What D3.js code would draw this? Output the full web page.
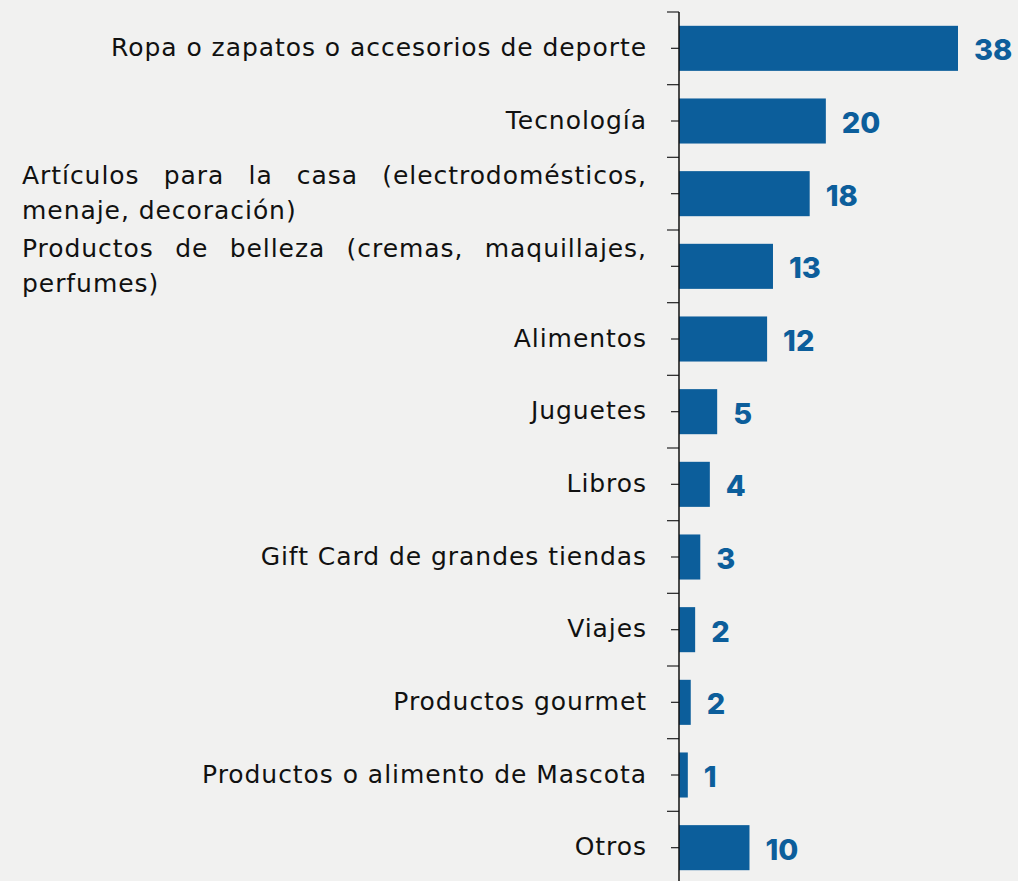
<!DOCTYPE html>
<html><head><meta charset="utf-8">
<script src="https://cdn.jsdelivr.net/npm/d3@7"></script>
<style>
html,body{margin:0;padding:0;background:#f1f1f0;}
svg{display:block;}
</style></head>
<body>
<svg id="chart" width="1018" height="881"></svg>
<script>
const categories = [
  "Ropa o zapatos o accesorios de deporte",
  "Tecnología",
  "Artículos para la casa (electrodomésticos,\nmenaje, decoración)",
  "Productos de belleza (cremas, maquillajes,\nperfumes)",
  "Alimentos",
  "Juguetes",
  "Libros",
  "Gift Card de grandes tiendas",
  "Viajes",
  "Productos gourmet",
  "Productos o alimento de Mascota",
  "Otros"
];
const values = [38.0, 20.0, 17.8, 12.8, 12.0, 5.2, 4.2, 2.9, 2.2, 1.6, 1.2, 9.6];

const svg = d3.select("#chart");
const axisX = 679;
const labelRight = 647, labelLeft = 22;
const barColor = "#0c5e9b";
const valueFont = "Inter, 'Noto Sans', sans-serif";
const labelFont = "'DejaVu Sans', 'Noto Sans', sans-serif";
const labelSize = 25;

const y = d3.scaleBand().domain(categories).range([12, 884]).paddingInner(0.38).paddingOuter(0.19);
const x = d3.scaleLinear().domain([0, 38]).range([axisX, 958]);

// bars
svg.append("g").selectAll("rect").data(values).join("rect")
  .attr("x", x(0))
  .attr("y", (d,i) => y(categories[i]))
  .attr("width", d => x(d) - x(0))
  .attr("height", y.bandwidth())
  .attr("fill", barColor);

// value labels
svg.append("g").selectAll("text").data(values).join("text")
  .attr("x", d => x(d) + 16)
  .attr("y", (d,i) => y(categories[i]) + y.bandwidth()/2 + 2)
  .attr("dy", "0.35em")
  .attr("fill", barColor)
  .attr("font-family", valueFont)
  .attr("font-weight", 800)
  .attr("font-size", 29)
  .text(d => Math.round(d));

// axis with center ticks
const axis = d3.axisLeft(y).tickSize(8).tickFormat("");
const ag = svg.append("g").attr("transform", `translate(${axisX},0)`).call(axis);
ag.select(".domain").remove();
ag.selectAll(".tick line").attr("stroke", "#333").attr("stroke-width", 1.3);
// boundary ticks
const step = y.step();
const bounds = d3.range(categories.length + 1).map(i => 12 + i*step);
svg.append("g").selectAll("line").data(bounds).join("line")
  .attr("x1", axisX - 12).attr("x2", axisX)
  .attr("y1", d => d).attr("y2", d => d)
  .attr("stroke", "#333").attr("stroke-width", 1.3);
svg.append("line").attr("x1", axisX).attr("x2", axisX).attr("y1", 12).attr("y2", 884)
  .attr("stroke", "#111").attr("stroke-width", 1.5);

// category labels
const lg = svg.append("g").attr("font-family", labelFont).attr("font-size", labelSize).attr("fill", "#111");
const probe = lg.append("text").text(categories[0]);
const pw = probe.node().getComputedTextLength();
probe.remove();
const ls = Math.max(0, (536 - pw) / categories[0].length);
lg.attr("letter-spacing", ls);

categories.forEach((c, i) => {
  const cy = y(c) + y.bandwidth()/2 - 1;
  const lines = c.split("\n");
  if (lines.length === 1) {
    lg.append("text").attr("x", labelRight).attr("y", cy).attr("dy", "0.35em")
      .attr("text-anchor", "end").text(c);
  } else {
    const lh = 35;
    lines.forEach((ln, k) => {
      const ly = cy + (k - (lines.length-1)/2) * lh;
      const words = ln.split(" ");
      if (k < lines.length - 1) {
        const tmp = words.map(w => {
          const t = lg.append("text").attr("y", ly).attr("dy", "0.35em").text(w);
          return {t, w: t.node().getComputedTextLength()};
        });
        const total = d3.sum(tmp, d => d.w);
        const gap = (labelRight - labelLeft - total) / (words.length - 1);
        let xx = labelLeft;
        tmp.forEach(d => { d.t.attr("x", xx); xx += d.w + gap; });
      } else {
        lg.append("text").attr("x", labelLeft).attr("y", ly).attr("dy", "0.35em").text(ln);
      }
    });
  }
});
</script>
</body></html>
